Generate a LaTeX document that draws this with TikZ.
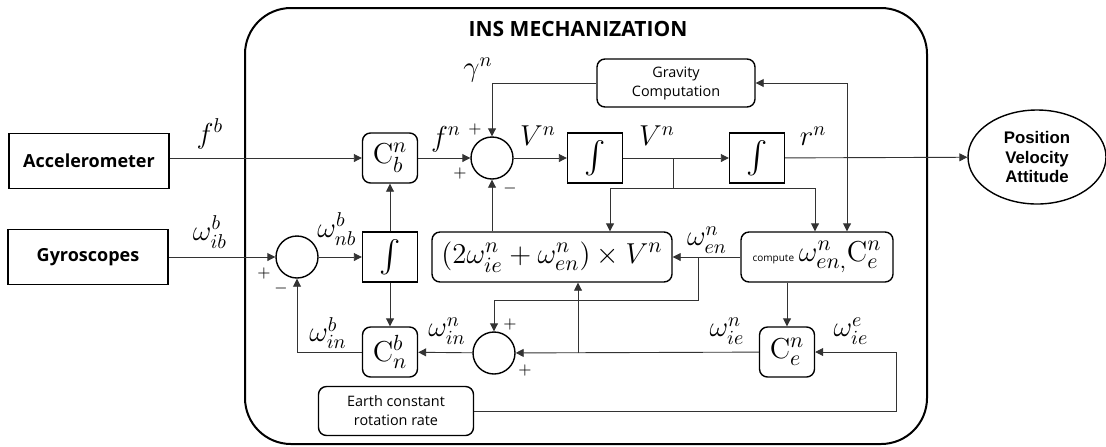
\documentclass[tikz,border=0pt]{standalone}
\usepackage{amsmath,amssymb}
\usepackage[no-math]{fontspec}
\newfontfamily\labelfont{Open Sans}
\newfontfamily\arialfont{Liberation Sans}
\usetikzlibrary{arrows.meta,positioning,shapes.geometric}

\begin{document}
\begin{tikzpicture}[x=0.5pt, y=-0.5pt, >={Triangle[length=4pt,width=4pt]},
  wire/.style={line width=0.45pt, draw=black!80},
  blk/.style={draw, line width=0.7pt, inner sep=0pt, align=center},
  sensor/.style={blk, minimum width=80pt, minimum height=27.5pt, font=\labelfont\bfseries\fontsize{9}{10}\selectfont},
  mat/.style={blk, rounded corners=4pt, minimum width=27.5pt, minimum height=25pt, font=\fontsize{15}{17}\selectfont},
  intg/.style={blk, minimum width=27.5pt, minimum height=25pt, font=\fontsize{16}{18}\selectfont},
  calc/.style={blk, rounded corners=4pt, font=\labelfont\fontsize{7.2}{9.5}\selectfont},
  sumc/.style={draw, circle, line width=0.7pt, minimum size=21pt, inner sep=0pt},
  lab/.style={inner sep=0pt, font=\fontsize{14.5}{16}\selectfont},
  sgn/.style={inner sep=0pt, font=\fontsize{8}{8}\selectfont}]
\useasboundingbox (0,0) rectangle (1106,446);
% mechanization frame
\draw[line width=1pt, rounded corners=23pt] (245,8) rectangle (927,444);
\node[font=\labelfont\bfseries\fontsize{10.5}{12}\selectfont] (title) at (578,29) {INS MECHANIZATION};
% sensors and output
\node[sensor] (acc) at (89,161) {Accelerometer};
\node[sensor] (gyr) at (88,257) {Gyroscopes};
\node[draw, ellipse, line width=0.7pt, minimum width=69pt, minimum height=47pt, inner sep=0pt, align=center,
  font=\arialfont\bfseries\fontsize{8.4}{9.6}\selectfont] (pva) at (1037,157) {Position\\Velocity\\Attitude};
% velocity chain
\node[mat] (cbn) at (390,158) {$\mathrm{C}_b^n$};
\draw[wire, ->] (acc.east |- cbn) -- (cbn);
\node[sumc] (sumv) at (492,158) {};
\draw[wire, ->] (cbn) -- (sumv);
\node[intg] (intv) at (595,158) {$\int$};
\draw[wire, ->] (sumv) -- (intv);
\node[intg] (intr) at (757,158) {$\int$};
\draw[wire, ->] (intv) -- (intr);
\draw[wire, ->] (intr) -- (pva);
\node[calc, minimum width=79pt, minimum height=24pt] (grav) at (676,83) {Gravity\\Computation};
\draw[wire, ->] (grav.west) -| (sumv.north);
% attitude chain
\node[sumc] (sumw) at (297,257) {};
\draw[wire, ->] (gyr.east |- sumw) -- (sumw);
\node[intg] (intw) at (390,257) {$\int$};
\draw[wire, ->] (sumw) -- (intw);
\draw[wire, ->] (intw) -- (cbn);
\node[mat] (cnb) at (390,352) {$\mathrm{C}_n^b$};
\draw[wire, ->] (intw) -- (cnb);
\draw[wire, ->] (cnb.west) -| (sumw.south);
% coriolis and transport rate
\node[mat, minimum width=120pt] (cross) at (552,257) {$(2\omega_{ie}^n+\omega_{en}^n)\times V^n$};
\draw[wire, ->] (cross.north -| sumv) -- (sumv);
\node[mat, minimum width=76pt] (comp) at (817,257) {{\labelfont\fontsize{5}{6}\selectfont compute}$\,\omega_{en,}^n\mathrm{C}_e^n$};
\draw[wire, ->] (comp) -- (cross);
\coordinate (vb) at (673,158);
\coordinate (vh) at (673,188);
\draw[wire] (vb) -- (vh);
\draw[wire, ->] (vh) -| ([xshift=29pt]cross.north);
\draw[wire, ->] (vh) -| ([xshift=-1pt]comp.north);
\draw[wire, <->] (grav.east) -| ([xshift=15pt]comp.north);
\node[sumc] (sumi) at (494,353) {};
\coordinate (wb) at (698,257);
\coordinate (wd) at (698,300);
\draw[wire, ->] (wb) -- (wd) -| (sumi.north);
\node[mat] (cen) at (787,352) {$\mathrm{C}_e^n$};
\draw[wire, ->] (comp.south -| cen) -- (cen);
\draw[wire, ->] (cen) -- (sumi);
\coordinate (ib) at (578,353);
\draw[wire, ->] (ib) -- (ib |- cross.south);
\draw[wire, ->] (sumi) -- (cnb);
\node[calc, minimum width=77.5pt, minimum height=24.5pt] (earth) at (396,411) {Earth constant\\rotation rate};
\coordinate (ec) at (896,380);
\draw[wire, ->] (earth.east) -| (ec) |- (cen.east);
% signal labels
\node[lab] (lfb) at (210,134) {$f^b$};
\node[lab] (lwib) at (210,232) {$\omega_{ib}^b$};
\node[lab] (lfn) at (446,139) {$f^n$};
\node[lab] (lgam) at (478,70) {$\gamma^n$};
\node[lab] (lv1) at (538,136) {$V^n$};
\node[lab] (lv2) at (657,136) {$V^n$};
\node[lab] (lrn) at (813,136) {$r^n$};
\node[lab] (lwnb) at (337,229) {$\omega_{nb}^b$};
\node[lab] (lwinb) at (328,333) {$\omega_{in}^b$};
\node[lab] (lwinn) at (447,331) {$\omega_{in}^n$};
\node[lab] (lwen) at (707,240) {$\omega_{en}^n$};
\node[lab] (lwien) at (727,331) {$\omega_{ie}^n$};
\node[lab] (lwiee) at (851,331) {$\omega_{ie}^e$};
% signs
\node[sgn] (s1) at (475,129) {$+$};
\node[sgn] (s2) at (460,173) {$+$};
\node[sgn] (s3) at (510,188) {$-$};
\node[sgn] (s4) at (264,273) {$+$};
\node[sgn] (s5) at (281,288) {$-$};
\node[sgn] (s6) at (510,324) {$+$};
\node[sgn] (s7) at (525,370) {$+$};
\end{tikzpicture}
\end{document}
